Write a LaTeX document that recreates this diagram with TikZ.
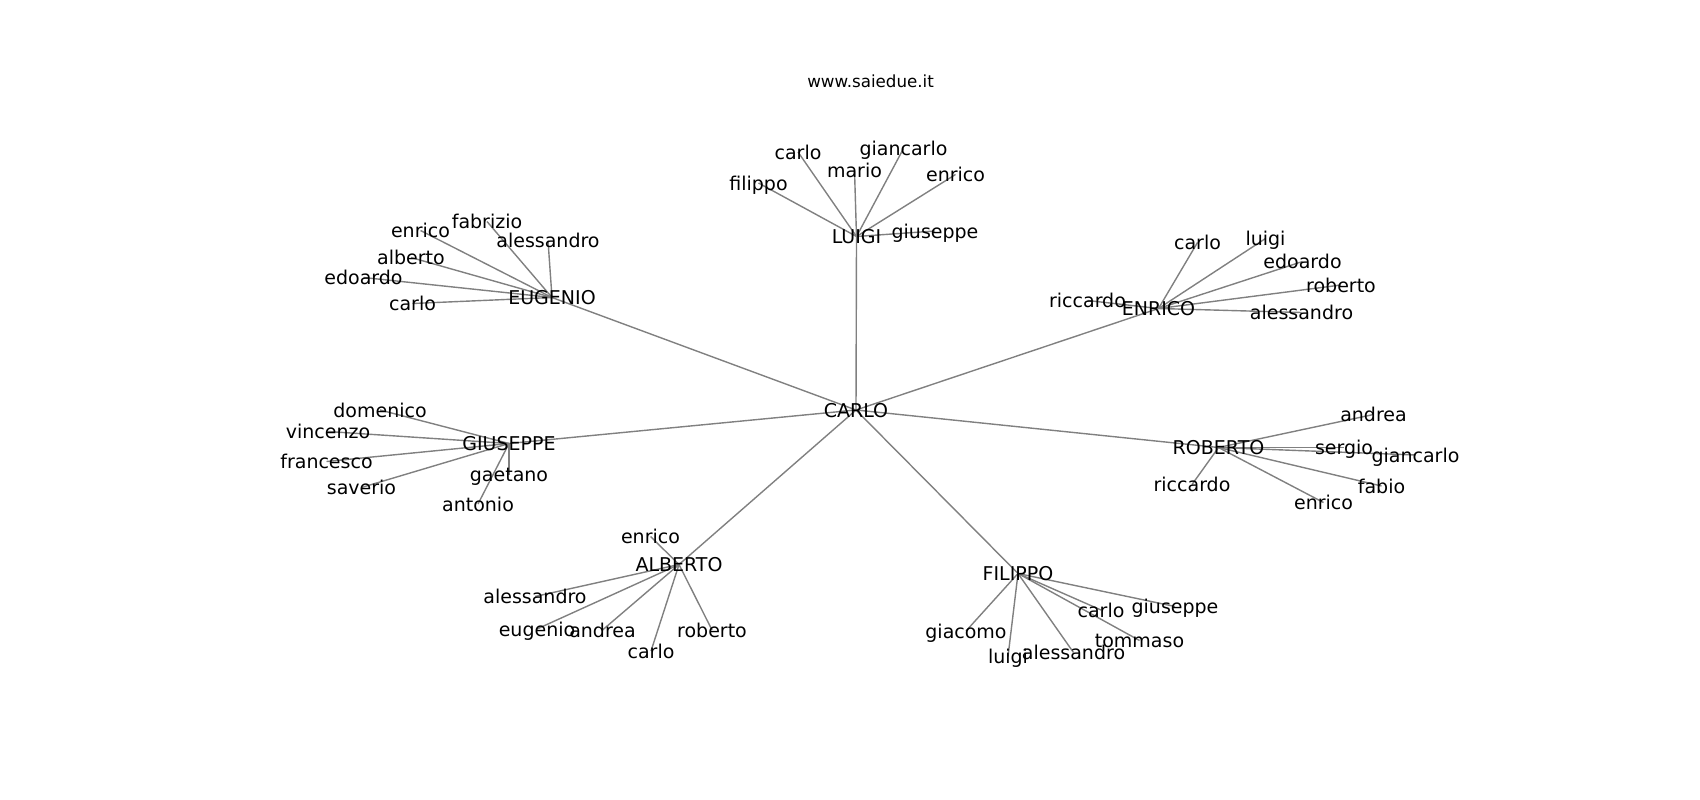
\documentclass[tikz,border=0pt]{standalone}
\usepackage{fontspec}
\setmainfont{DejaVu Sans}
\usetikzlibrary{backgrounds}
\tikzset{
  lbl/.style={inner sep=0pt, outer sep=0pt, font=\fontsize{19}{19}\selectfont, text height=14.5pt, text depth=0pt},
  ttl/.style={inner sep=0pt, outer sep=0pt, font=\fontsize{16.7}{16.7}\selectfont, text height=13pt, text depth=0pt},
  edgeline/.style={draw=gray, line width=1.4pt}
}
\begin{document}
\begin{tikzpicture}[x=1pt,y=-1pt]
\useasboundingbox (0,0) rectangle (1700,800);
\node[ttl] (title) at (870.6,81.3) {www.saiedue.it};
% hubs
\node[lbl] (C)  at (856,410) {CARLO};
\node[lbl] (L)  at (856.5,236.5) {LUIGI};
\node[lbl] (En) at (1158.5,308.5) {ENRICO};
\node[lbl] (Eu) at (552,297.5) {EUGENIO};
\node[lbl] (G)  at (509,443.5) {GIUSEPPE};
\node[lbl] (R)  at (1218.5,447.5) {ROBERTO};
\node[lbl] (A)  at (679,564.5) {ALBERTO};
\node[lbl] (F)  at (1018,573.5) {FILIPPO};
% LUIGI leaves
\node[lbl] (L1) at (798,152) {carlo};
\node[lbl] (L2) at (854.5,170) {mario};
\node[lbl] (L3) at (903.5,148.5) {giancarlo};
\node[lbl] (L4) at (955.5,174.5) {enrico};
\node[lbl] (L5) at (758.5,183) {filippo};
\node[lbl] (L6) at (935,231) {giuseppe};
% ENRICO leaves
\node[lbl] (En1) at (1087.5,300.5) {riccardo};
\node[lbl] (En2) at (1197.5,242.5) {carlo};
\node[lbl] (En3) at (1265.5,238.5) {luigi};
\node[lbl] (En4) at (1302.5,261.5) {edoardo};
\node[lbl] (En5) at (1341,285) {roberto};
\node[lbl] (En6) at (1301.5,312.5) {alessandro};
% EUGENIO leaves
\node[lbl] (Eu1) at (487,221.5) {fabrizio};
\node[lbl] (Eu2) at (420.5,230.5) {enrico};
\node[lbl] (Eu3) at (548,240.5) {alessandro};
\node[lbl] (Eu4) at (411,257.5) {alberto};
\node[lbl] (Eu5) at (363.5,277.5) {edoardo};
\node[lbl] (Eu6) at (412.5,303.5) {carlo};
% GIUSEPPE leaves
\node[lbl] (G1) at (380,410) {domenico};
\node[lbl] (G2) at (328,431.5) {vincenzo};
\node[lbl] (G3) at (326.5,461.5) {francesco};
\node[lbl] (G4) at (361.5,487.5) {saverio};
\node[lbl] (G5) at (509,474.5) {gaetano};
\node[lbl] (G6) at (478,504) {antonio};
% ROBERTO leaves
\node[lbl] (R1) at (1373.5,414.5) {andrea};
\node[lbl] (R2) at (1344,447.5) {sergio};
\node[lbl] (R3) at (1415.5,455) {giancarlo};
\node[lbl] (R4) at (1192,484.5) {riccardo};
\node[lbl] (R5) at (1381.5,486) {fabio};
\node[lbl] (R6) at (1323.5,502.5) {enrico};
% ALBERTO leaves
\node[lbl] (A1) at (650.5,536.5) {enrico};
\node[lbl] (A2) at (535,596.5) {alessandro};
\node[lbl] (A3) at (537,629) {eugenio};
\node[lbl] (A4) at (602.5,630) {andrea};
\node[lbl] (A5) at (651,651) {carlo};
\node[lbl] (A6) at (712,630) {roberto};
% FILIPPO leaves
\node[lbl] (F1) at (966,631) {giacomo};
\node[lbl] (F2) at (1008,656.5) {luigi};
\node[lbl] (F3) at (1073.5,652.5) {alessandro};
\node[lbl] (F4) at (1101,610) {carlo};
\node[lbl] (F5) at (1175,606.5) {giuseppe};
\node[lbl] (F6) at (1139.5,640.5) {tommaso};
\begin{pgfonlayer}{background}
\foreach \h in {L,En,Eu,G,R,A,F} {
  \draw[edgeline] (C.center) -- (\h.center);
  \foreach \i in {1,...,6} {
    \draw[edgeline] (\h.center) -- (\h\i.center);
  }
}
\end{pgfonlayer}
\end{tikzpicture}
\end{document}
